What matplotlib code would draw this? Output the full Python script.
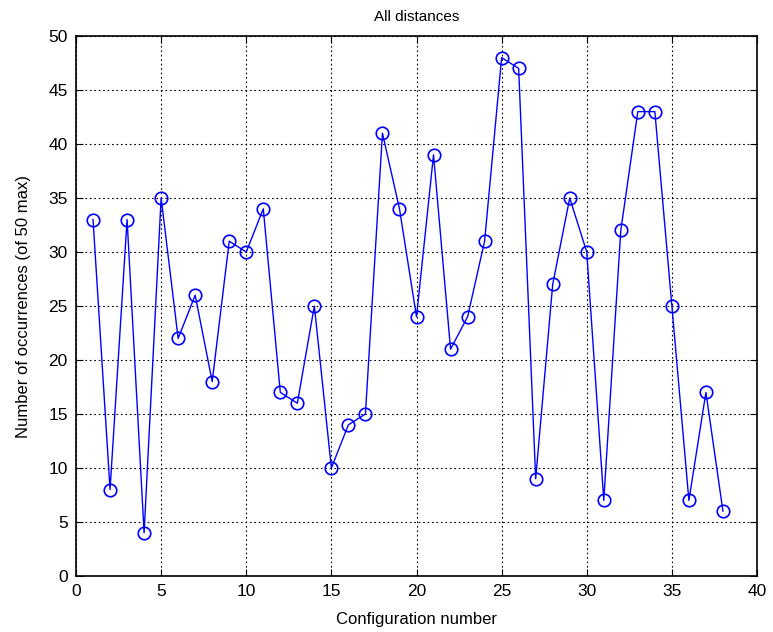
import numpy as np
import matplotlib.pyplot as plt

plt.rcParams["font.family"] = ["Liberation Sans", "DejaVu Sans"]

config = np.arange(1, 39)
counts = [33, 8, 33, 4, 35, 22, 26, 18, 31, 30, 34, 17, 16, 25, 10, 14, 15, 41, 34,
          24, 39, 21, 24, 31, 48, 47, 9, 27, 35, 30, 7, 32, 43, 43, 25, 7, 17, 6]

fig = plt.figure(figsize=(7.73, 6.32), dpi=100)
ax = fig.add_axes([76 / 773, 1 - 576 / 632, (757 - 76) / 773, (576 - 36) / 632])
ax.plot(config, counts, "b-o", mfc="none", ms=9, mew=1.2, lw=1)
ax.set_xlim(0, 40)
ax.set_ylim(0, 50)
ax.set_xticks(np.arange(0, 41, 5))
ax.set_yticks(np.arange(0, 51, 5))
ax.grid(True, color="black", linestyle=(0, (1.5, 2.5)), linewidth=0.8)
ax.tick_params(direction="in", top=True, right=True, labelsize=12.5, length=5, pad=6)
for s in ax.spines.values():
    s.set_linewidth(1.2)
ax.set_title("All distances", fontsize=11, pad=11)
ax.set_xlabel("Configuration number", fontsize=12, labelpad=9)
ax.set_ylabel("Number of occurrences (of 50 max)", fontsize=12, labelpad=12)
fig.savefig("out.png", dpi=100)
